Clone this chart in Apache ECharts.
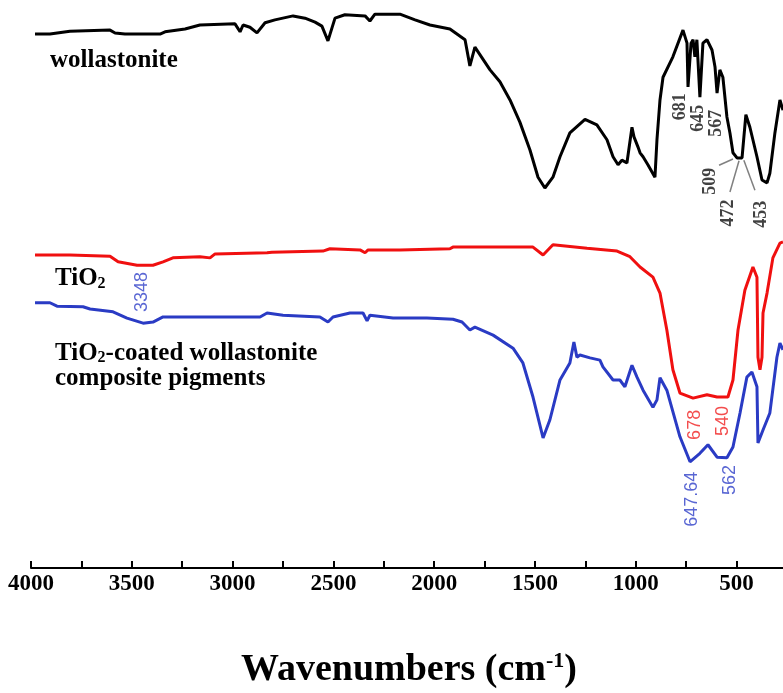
<!DOCTYPE html>
<html>
<head>
<meta charset="utf-8">
<script src="https://cdn.jsdelivr.net/npm/echarts@6/dist/echarts.min.js"></script>
<style>
html, body { margin: 0; padding: 0; background: #fff; }
#chart { width: 783px; height: 693px; }
</style>
</head>
<body>
<div id="chart"></div>
<script>
// FTIR spectra: [wavenumber (cm-1), transmittance (a.u.)]
var wollastonite = [
  [3980, 94.0], [3906, 94.0], [3807, 94.5], [3608, 94.7], [3583, 94.2], [3534, 94.0],
  [3360, 94.0], [3335, 94.4], [3236, 94.9], [3162, 95.6], [2988, 95.8], [2963, 94.4],
  [2948, 95.6], [2914, 95.2], [2879, 94.2], [2839, 96.0], [2790, 96.5], [2700, 97.2],
  [2641, 96.8], [2591, 96.1], [2557, 95.4], [2527, 92.8], [2492, 96.8], [2443, 97.4],
  [2343, 97.2], [2319, 96.3], [2294, 97.5], [2170, 97.5], [2095, 96.5], [2021, 95.6],
  [1922, 94.9], [1847, 93.0], [1823, 88.4], [1798, 91.7], [1723, 87.7], [1674, 85.6],
  [1624, 82.4], [1575, 78.5], [1525, 73.6], [1485, 68.8], [1451, 66.9], [1411, 68.8],
  [1376, 72.4], [1327, 76.6], [1252, 79.0], [1193, 78.0], [1143, 75.4], [1113, 72.4],
  [1088, 71.0], [1069, 71.8], [1044, 71.3], [1019, 77.6], [1009, 75.9], [989, 74.1],
  [979, 73.1], [964, 72.4], [940, 71.0], [905, 68.8], [895, 75.4], [880, 82.4],
  [865, 86.4], [816, 90.0], [766, 94.7], [746, 92.4], [741, 84.7], [726, 92.4],
  [716, 93.0], [707, 90.0], [697, 93.0], [682, 82.9], [667, 92.4], [647, 93.0],
  [622, 91.2], [607, 88.2], [597, 83.6], [583, 87.7], [568, 86.4], [548, 79.4],
  [533, 76.6], [518, 73.1], [498, 72.2], [473, 72.2], [454, 79.8], [434, 77.6],
  [399, 72.4], [374, 68.3], [349, 67.8], [335, 69.5], [310, 76.6], [285, 82.4],
  [270, 80.6]
];
var tio2 = [
  [3980, 55.1], [3807, 55.1], [3608, 54.9], [3568, 53.9], [3474, 53.3], [3395, 53.3],
  [3345, 53.9], [3296, 54.6], [3162, 54.8], [3112, 54.6], [3087, 55.3], [2829, 55.5],
  [2805, 55.6], [2552, 55.8], [2517, 56.2], [2368, 56.0], [2343, 55.5], [2328, 56.0],
  [2170, 56.0], [1922, 56.2], [1907, 56.5], [1510, 56.5], [1460, 55.1], [1411, 56.9],
  [1242, 56.3], [1093, 55.8], [1029, 54.8], [979, 53.0], [915, 51.2], [880, 48.4],
  [846, 41.9], [816, 34.9], [781, 30.8], [716, 29.9], [647, 30.5], [597, 30.1],
  [543, 30.1], [518, 33.1], [493, 41.9], [459, 48.9], [419, 53.0], [399, 51.2],
  [394, 37.1], [384, 34.9], [374, 37.1], [369, 44.9], [349, 48.4], [320, 54.6],
  [285, 57.2], [270, 57.4]
];
var composite = [
  [3980, 46.7], [3906, 46.7], [3871, 46.1], [3742, 46.0], [3707, 45.6], [3593, 45.1],
  [3524, 44.0], [3444, 43.1], [3395, 43.3], [3345, 44.2], [3162, 44.2], [2864, 44.2],
  [2829, 44.9], [2750, 44.5], [2567, 44.2], [2527, 43.3], [2502, 44.2], [2418, 44.9],
  [2353, 44.9], [2333, 43.5], [2319, 44.5], [2204, 44.0], [2036, 44.0], [1907, 43.8],
  [1862, 43.3], [1823, 41.9], [1798, 42.4], [1708, 41.0], [1609, 38.7], [1560, 36.1],
  [1510, 30.1], [1460, 22.9], [1426, 26.1], [1376, 33.1], [1327, 36.1], [1307, 39.8],
  [1292, 37.1], [1277, 37.5], [1227, 37.0], [1178, 36.6], [1163, 35.4], [1113, 33.1],
  [1079, 33.1], [1054, 31.9], [1019, 35.7], [994, 33.6], [964, 31.3], [915, 28.3],
  [895, 29.6], [880, 33.5], [846, 31.3], [781, 23.1], [731, 18.7], [682, 20.2],
  [642, 21.7], [597, 19.5], [548, 19.4], [518, 21.3], [483, 27.3], [449, 33.6],
  [424, 34.5], [399, 31.9], [394, 22.0], [369, 24.3], [335, 27.3], [300, 37.1],
  [285, 39.6], [270, 38.4]
];
var xTickLabels = [4000, 3500, 3000, 2500, 2000, 1500, 1000, 500];

// peak labels: [wavenumber, transmittance, text]
var peaksBlack = [[781, 81.2, "681"], [692, 79.2, "645"], [602, 78.3, "567"],
  [632, 68.1, "509"], [543, 62.5, "472"], [379, 62.3, "453"]];
var peaksRed = [[707, 25.2, "678"], [568, 25.9, "540"]];
var peaksBlue = [[3449, 48.6, "3348"], [722, 12.1, "647.64"], [533, 15.5, "562"]];
// leader lines from labels to the wollastonite peaks
var leaders = [
  [[587, 70.9], [518, 72.0]],
  [[533, 66.2], [488, 71.7]],
  [[464, 71.8], [409, 66.5]]
];

var serif = "'Liberation Serif', 'Times New Roman', serif";
var sans = "'Liberation Sans', Arial, sans-serif";

function labelSeries(data, color, family, size, bold) {
  return {
    type: "scatter",
    data: data,
    symbolSize: 0,
    silent: true,
    z: 10,
    label: {
      show: true,
      position: "inside",
      rotate: 90,
      color: color,
      fontFamily: family,
      fontSize: size,
      fontWeight: bold ? "bold" : "normal",
      formatter: function(p) {
        return p.data[2];
      }
    }
  };
}

var chart = echarts.init(document.getElementById("chart"));
var option = {
  backgroundColor: "#fff",
  animation: false,
  grid: { left: 31, right: -4, top: 0, bottom: 125, outerBoundsMode: "none", containLabel: false },
  xAxis: {
    type: "value",
    inverse: true,
    min: 250,
    max: 4000,
    interval: 250,
    axisLine: { lineStyle: { color: "#000", width: 2 } },
    axisTick: { inside: true, length: 7, lineStyle: { color: "#000", width: 2 } },
    splitLine: { show: false },
    axisLabel: {
      color: "#000",
      fontFamily: serif,
      fontWeight: "bold",
      fontSize: 23,
      margin: 5,
      formatter: function(v) {
        return xTickLabels.indexOf(v) >= 0 ? String(v) : "";
      }
    },
    name: "{a|Wavenumbers (cm}{b|-1}{a|)}",
    nameLocation: "middle",
    nameGap: 82,
    nameTextStyle: {
      rich: {
        a: { fontFamily: serif, fontWeight: "bold", fontSize: 38, color: "#000", lineHeight: 40 },
        b: { fontFamily: serif, fontWeight: "bold", fontSize: 22, color: "#000", verticalAlign: "top", lineHeight: 40, padding: [0, 0, 14, 0] }
      }
    }
  },
  yAxis: { type: "value", min: 0, max: 100, show: false },
  graphic: [
    {
      type: "text", left: 50, top: 48,
      style: { text: "wollastonite", font: "bold 25px " + serif, fill: "#000" }
    },
    {
      type: "text", left: 55, top: 266,
      style: {
        text: "{a|TiO}{b|2}",
        rich: {
          a: { font: "bold 25px " + serif, fill: "#000", lineHeight: 26 },
          b: { font: "bold 16px " + serif, fill: "#000", lineHeight: 26, verticalAlign: "bottom", padding: [8, 0, 0, 0] }
        }
      }
    },
    {
      type: "text", left: 55, top: 341,
      style: {
        text: "{a|TiO}{b|2}{a|-coated wollastonite}\n{a|composite pigments}",
        rich: {
          a: { font: "bold 25px " + serif, fill: "#000", lineHeight: 25 },
          b: { font: "bold 16px " + serif, fill: "#000", lineHeight: 25, verticalAlign: "bottom", padding: [8, 0, 0, 0] }
        }
      }
    }
  ],
  series: [
    {
      name: "wollastonite", type: "line", data: wollastonite, showSymbol: false,
      lineStyle: { color: "#000", width: 3 }, z: 3,
      markLine: {
        silent: true, symbol: "none", label: { show: false },
        lineStyle: { color: "#808080", width: 1.5, type: "solid" },
        data: leaders.map(function(l) {
          return [{ coord: l[0] }, { coord: l[1] }];
        })
      }
    },
    {
      name: "TiO2", type: "line", data: tio2, showSymbol: false,
      lineStyle: { color: "#f01010", width: 3 }, z: 3
    },
    {
      name: "composite", type: "line", data: composite, showSymbol: false,
      lineStyle: { color: "#2a3bc4", width: 3 }, z: 3
    },
    labelSeries(peaksBlack, "#111", serif, 18, true),
    labelSeries(peaksRed, "#f02020", sans, 18, false),
    labelSeries(peaksBlue, "#3040c8", sans, 18, false)
  ]
};
chart.setOption(option);
</script>
</body>
</html>
